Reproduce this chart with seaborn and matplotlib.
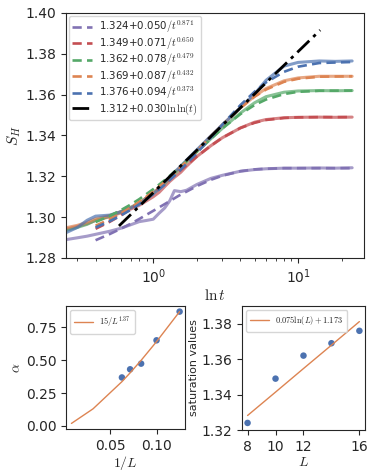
import matplotlib
matplotlib.use("Agg")
import matplotlib.pyplot as plt
import seaborn as sns

# ---- data ----
# simulation curves (x axis is ln t)
lnt = [0.25, 0.3, 0.35, 0.4, 0.5, 0.6, 0.7, 0.8, 0.9, 1.0, 1.1, 1.2, 1.3, 1.4,
       1.55, 1.7, 2.0, 2.5, 3.0, 4.0, 5.0, 6.0, 8.0, 10.0, 14.0, 18.0, 23.6]
s_L8 = [1.2890, 1.2899, 1.2907, 1.2916, 1.2931, 1.2946, 1.2963, 1.2978, 1.2984,
        1.2990, 1.3020, 1.3045, 1.3080, 1.3130, 1.3125, 1.3132, 1.3160, 1.3190,
        1.3205, 1.3225, 1.3233, 1.3237, 1.3240, 1.3240, 1.3241, 1.3240, 1.3242]
s_L10 = [1.2941, 1.2955, 1.2968, 1.2984, 1.3002, 1.3022, 1.3040, 1.3058, 1.3080,
         1.3100, 1.3122, 1.3150, 1.3175, 1.3195, 1.3220, 1.3250, 1.3297, 1.3350,
         1.3389, 1.3437, 1.3465, 1.3478, 1.3487, 1.3489, 1.3490, 1.3489, 1.3490]
s_L12 = [1.2935, 1.2950, 1.2965, 1.2985, 1.3005, 1.3027, 1.3048, 1.3070, 1.3095,
         1.3118, 1.3140, 1.3165, 1.3190, 1.3212, 1.3240, 1.3270, 1.3321, 1.3384,
         1.3435, 1.3510, 1.3560, 1.3590, 1.3612, 1.3618, 1.3620, 1.3619, 1.3620]
s_L14 = [1.2948, 1.2960, 1.2975, 1.2992, 1.3008, 1.3027, 1.3047, 1.3068, 1.3095,
         1.3120, 1.3142, 1.3170, 1.3195, 1.3218, 1.3245, 1.3275, 1.3325, 1.3397,
         1.3452, 1.3536, 1.3592, 1.3630, 1.3668, 1.3682, 1.3690, 1.3690, 1.3690]
s_L16 = [1.2924, 1.2950, 1.2985, 1.3005, 1.3010, 1.3027, 1.3045, 1.3065, 1.3090,
         1.3115, 1.3140, 1.3170, 1.3195, 1.3220, 1.3250, 1.3280, 1.3330, 1.3398,
         1.3452, 1.3537, 1.3603, 1.3670, 1.3740, 1.3758, 1.3765, 1.3763, 1.3765]

# fitted curves
fit_lnt = [0.4, 0.5, 0.6, 0.7, 0.8, 1.0, 1.2, 1.5, 2.0, 2.5, 3.0, 4.0, 5.0,
           6.0, 8.0, 10.0, 14.0, 23.6]
fit_L8 = [1.2887, 1.2917, 1.2944, 1.2968, 1.2991, 1.3031, 1.3064, 1.3105, 1.3152,
          1.3183, 1.3203, 1.3225, 1.3234, 1.3237, 1.3240, 1.3240, 1.3240, 1.3240]
fit_L10 = [1.2943, 1.2977, 1.3009, 1.3040, 1.3068, 1.3119, 1.3165, 1.3222, 1.3297,
           1.3350, 1.3389, 1.3437, 1.3462, 1.3476, 1.3486, 1.3489, 1.3490, 1.3490]
fit_L12 = [1.2976, 1.3006, 1.3035, 1.3062, 1.3088, 1.3137, 1.3181, 1.3240, 1.3321,
           1.3384, 1.3435, 1.3505, 1.3549, 1.3576, 1.3603, 1.3614, 1.3619, 1.3620]
fit_L14 = [1.2958, 1.2989, 1.3019, 1.3047, 1.3074, 1.3125, 1.3172, 1.3235, 1.3323,
           1.3395, 1.3452, 1.3536, 1.3590, 1.3625, 1.3663, 1.3678, 1.3688, 1.3690]
fit_L16 = [1.2950, 1.2980, 1.3009, 1.3036, 1.3063, 1.3113, 1.3159, 1.3223, 1.3314,
           1.3390, 1.3453, 1.3549, 1.3614, 1.3660, 1.3712, 1.3737, 1.3755, 1.3760]
fit_labels = [r"1.324+0.050$/t^{0.871}$", r"1.349+0.071$/t^{0.650}$",
              r"1.362+0.078$/t^{0.479}$", r"1.369+0.087$/t^{0.432}$",
              r"1.376+0.094$/t^{0.373}$"]

loglog_lnt = [0.58, 0.7, 0.8, 1.0, 1.2, 1.5, 2.0, 2.5, 3.0, 4.0, 5.0, 6.0, 8.0, 10.0, 14.2]
loglog_S = [1.2957, 1.3013, 1.3053, 1.3120, 1.3175, 1.3242, 1.3328, 1.3395, 1.3450,
            1.3536, 1.3603, 1.3658, 1.3744, 1.3811, 1.3916]
loglog_label = r"1.312+0.030$\ln\ln(t)$"

# exponent alpha vs 1/L
inv_L = [0.0625, 0.0714, 0.0833, 0.1, 0.125]
alpha_vals = [0.368, 0.430, 0.473, 0.650, 0.868]
alpha_fit_x = [0.0078, 0.03125, 0.0625, 0.0714, 0.0833, 0.1, 0.125]
alpha_fit_y = [0.019, 0.130, 0.336, 0.403, 0.498, 0.640, 0.868]

# saturation values vs L
L_vals = [8, 10, 12, 14, 16]
sat_vals = [1.324, 1.349, 1.362, 1.369, 1.376]
sat_fit = [1.3282, 1.3414, 1.3547, 1.3679, 1.3812]

sns.set_style("ticks")
plt.rcParams["mathtext.fontset"] = "cm"
plt.rcParams["font.family"] = ["DejaVu Sans"]

pal = sns.color_palette("deep")
colors = [pal[4], pal[3], pal[2], pal[1], pal[0]]

fig = plt.figure(figsize=(3.74, 4.74), dpi=100)
ax = fig.add_axes([0.1765, 0.4557, 0.7968, 0.5169])

data = [s_L8, s_L10, s_L12, s_L14, s_L16]
fits = [fit_L8, fit_L10, fit_L12, fit_L14, fit_L16]
for s, c in zip(data, colors):
    sns.lineplot(x=lnt, y=s, ax=ax, color=c, lw=2.2, alpha=0.7, sort=False)
handles = []
for f, c, lab in zip(fits, colors, fit_labels):
    sns.lineplot(x=fit_lnt, y=f, ax=ax, color=c, lw=1.9, linestyle=(0, (3.5, 2)), sort=False)
    handles.append(ax.lines[-1])
sns.lineplot(x=loglog_lnt, y=loglog_S, ax=ax, color="black", lw=2,
             linestyle=(0, (6, 2, 1.2, 2)), sort=False)
handles.append(ax.lines[-1])
ax.set_xscale("log")
ax.set_xlim(0.25, 28.5)
ax.set_ylim(1.28, 1.40)
ax.set_yticks([1.28, 1.30, 1.32, 1.34, 1.36, 1.38, 1.40])
ax.tick_params(labelsize=10)
ax.set_xlabel(r"$\ln t$", fontsize=11, labelpad=1)
ax.set_ylabel(r"$S_H$", fontsize=11, labelpad=2)
ax.legend(handles, fit_labels + [loglog_label], loc="upper left", fontsize=7.4,
          handlelength=2.0, labelspacing=0.0, borderpad=0.3, handletextpad=0.7,
          borderaxespad=0.25)

# bottom left: alpha vs 1/L
ax2 = fig.add_axes([0.1765, 0.0949, 0.3182, 0.2595])
sns.lineplot(x=alpha_fit_x, y=alpha_fit_y, ax=ax2, color=pal[1], lw=1,
             label=r"$15/L^{1.37}$", sort=False)
sns.scatterplot(x=inv_L, y=alpha_vals, ax=ax2, color=pal[0], s=22, edgecolor="none")
ax2.set_yticks([0.0, 0.25, 0.5, 0.75])
ax2.set_xticks([0.05, 0.10])
ax2.tick_params(labelsize=10)
ax2.set_xlabel(r"$1/L$", fontsize=10, labelpad=1)
ax2.set_ylabel(r"$\alpha$", fontsize=10, labelpad=2)
ax2.legend(loc="upper left", fontsize=6, handlelength=2.2, borderpad=0.5)

# bottom right: saturation vs L
ax3 = fig.add_axes([0.647, 0.0928, 0.3289, 0.2616])
sns.lineplot(x=L_vals, y=sat_fit, ax=ax3, color=pal[1], lw=1,
             label=r"$0.075\ln(L)+1.173$", sort=False)
sns.scatterplot(x=L_vals, y=sat_vals, ax=ax3, color=pal[0], s=22, edgecolor="none")
ax3.set_ylim(1.32, 1.39)
ax3.set_xlim(7.6, 16.4)
ax3.set_xticks([8, 10, 12, 16])
ax3.set_yticks([1.32, 1.34, 1.36, 1.38])
ax3.tick_params(labelsize=10)
ax3.set_xlabel(r"$L$", fontsize=10, labelpad=1)
ax3.set_ylabel("saturation values", fontsize=8, labelpad=2)
ax3.legend(loc="upper left", fontsize=6, handlelength=2.2, borderpad=0.5)

fig.savefig("out.png", dpi=100)
